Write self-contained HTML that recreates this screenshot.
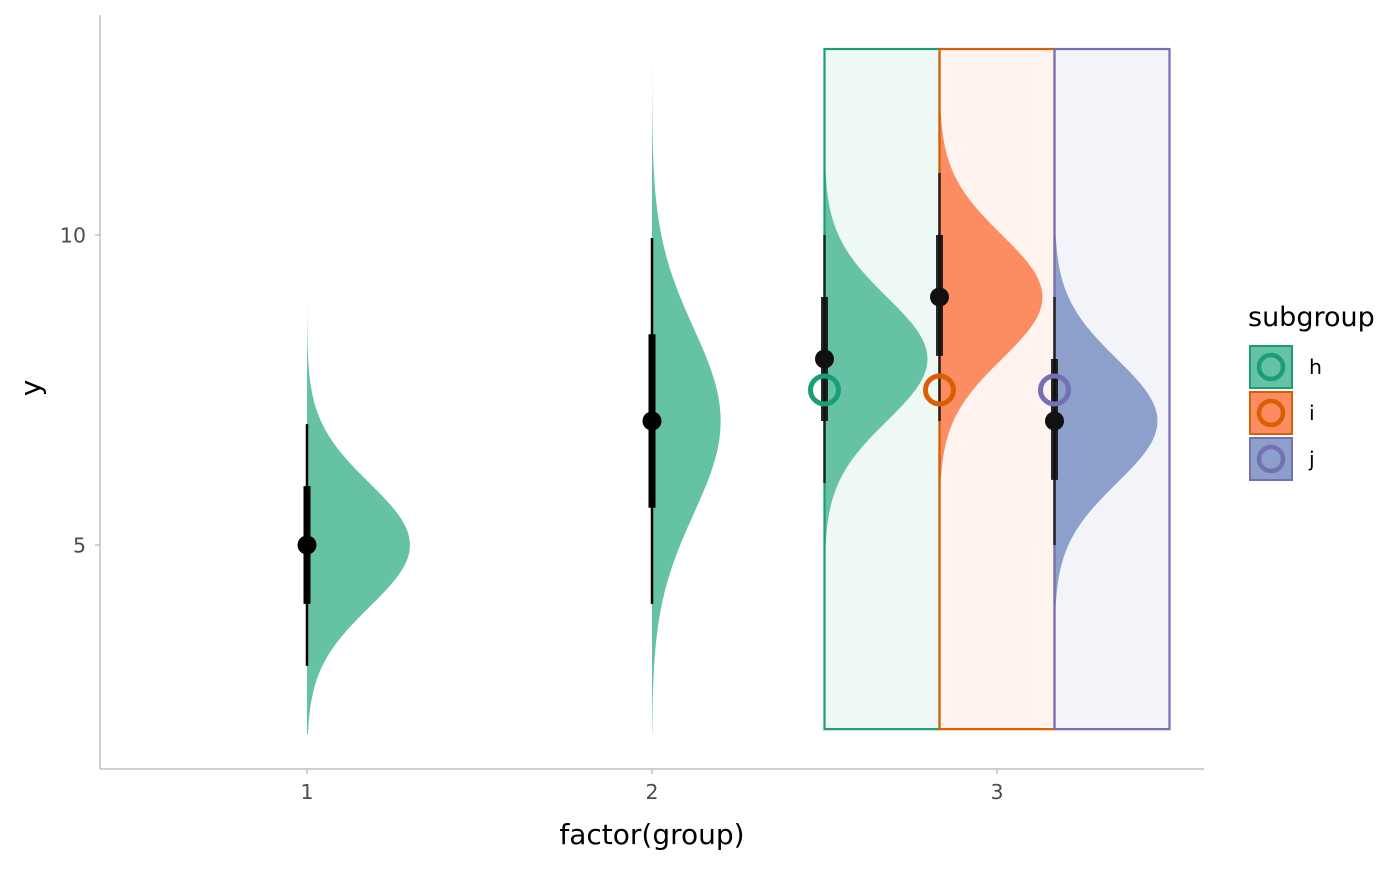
<!DOCTYPE html>
<html><head><meta charset="utf-8"><style>body{margin:0;background:#fff}svg text{font-family:"DejaVu Sans","Liberation Sans",sans-serif}</style></head>
<body>
<svg id="chart" width="1400" height="866" xmlns="http://www.w3.org/2000/svg"></svg>
<script>
// data
const groupLabels = ["1","2","3"];
const slabGroup = [1, 2, 3, 3, 3];
const slabSub = ["", "", "h", "i", "j"];
const slabMean = [5, 7, 8, 9, 7];
const slabSd = [1, 1.5, 1, 1, 1];
const slabMin = [1.95, 1.95, 4.95, 5.8, 4.0];
const slabMax = [9.0, 12.8, 11.1, 13.0, 10.0];
const pointVal = [5, 7, 8, 9, 7];
const thickLo = [4.05, 5.6, 7.0, 8.05, 6.05];
const thickHi = [5.95, 8.4, 9.0, 10.0, 8.0];
const thinLo = [3.05, 4.05, 6.0, 7.0, 5.0];
const thinHi = [6.95, 9.95, 10.0, 11.0, 9.0];
const subNames = ["h","i","j"];
const subHollowY = [7.5, 7.5, 7.5];
const rectLo = 2.03, rectHi = 13.0;
const yTicks = [5, 10];

const svg = document.getElementById('chart');
const NS = "http://www.w3.org/2000/svg";
const yS = v => 855 - 62 * v;
const xS = g => 307 + 345 * (g - 1);
const subOff = {"":0, h:-172.5, i:-57.5, j:57.5};
const fill = {"":"#66c2a5", h:"#66c2a5", i:"#fc8d62", j:"#8da0cb"};
const line = {h:"#1b9e77", i:"#d95f02", j:"#7570b3"};
const light = {h:"#eef8f4", i:"#fef3ef", j:"#f3f4f9"};
function mk(tag, attrs, parent){const e=document.createElementNS(NS,tag);for(const k in attrs)e.setAttribute(k,attrs[k]);(parent||svg).appendChild(e);return e;}

// axes
let a = mk('line',{x1:100,y1:15,x2:100,y2:769,stroke:'#b3b3b3','stroke-width':1.2});


a = mk('line',{x1:100,y1:769,x2:1204,y2:769,stroke:'#b3b3b3','stroke-width':1.2});


yTicks.forEach(t=>{
  const l=mk('line',{x1:95,x2:100,y1:yS(t),y2:yS(t),stroke:'#b3b3b3','stroke-width':1.2});
  
  
  const tx=mk('text',{x:86,y:yS(t)+7.5,'text-anchor':'end','font-size':20.5,fill:'#4d4d4d'});tx.textContent=t;
  
  
});
groupLabels.forEach((g,i)=>{
  const x=xS(i+1);
  const l=mk('line',{x1:x,x2:x,y1:769,y2:774,stroke:'#b3b3b3','stroke-width':1.2});
  
  
  const tx=mk('text',{x:x,y:799,'text-anchor':'middle','font-size':20.5,fill:'#4d4d4d'});tx.textContent=g;
  
  
});
let t=mk('text',{x:652,y:844,'text-anchor':'middle','font-size':28,fill:'#000'});t.textContent='factor(group)';


t=mk('text',{x:40,y:388,'text-anchor':'middle','font-size':28,fill:'#000',transform:'rotate(-90 40 388)'});t.textContent='y';



// background rects
subNames.forEach(s=>{
  const x0=xS(3)+subOff[s];
  const r=mk('rect',{x:x0,y:yS(rectHi),width:115,height:yS(rectLo)-yS(rectHi),fill:light[s]});
  
  
});
// slabs
slabMean.forEach((m,i)=>{
  const x0=xS(slabGroup[i])+subOff[slabSub[i]];
  const sd=slabSd[i];let d=`M${x0},${yS(slabMin[i])}`;
  for(let k=0;k<=200;k++){const v=slabMin[i]+(slabMax[i]-slabMin[i])*k/200;
    const p=Math.exp(-0.5*((v-m)/sd)**2)/(sd*Math.sqrt(2*Math.PI));
    d+=` L${(x0+p*258).toFixed(2)},${yS(v).toFixed(2)}`;}
  d+=` L${x0},${yS(slabMax[i])} Z`;
  const p=mk('path',{d:d,fill:fill[slabSub[i]]});
  
  
});
// rect outlines
subNames.forEach(s=>{
  const x0=xS(3)+subOff[s];
  const r=mk('rect',{x:x0,y:yS(rectHi),width:115,height:yS(rectLo)-yS(rectHi),fill:'none',stroke:line[s],'stroke-width':2.2});
  
  
});
// intervals
slabMean.forEach((m,i)=>{
  const x0=xS(slabGroup[i])+subOff[slabSub[i]];
  const col=slabSub[i]?'#111':'#000';
  let l=mk('line',{x1:x0,x2:x0,y1:yS(thinLo[i]),y2:yS(thinHi[i]),stroke:col,'stroke-width':2.5,'stroke-opacity':slabSub[i]?0.85:1});
  
  
  l=mk('line',{x1:x0,x2:x0,y1:yS(thickLo[i]),y2:yS(thickHi[i]),stroke:col,'stroke-width':7,'stroke-opacity':slabSub[i]?0.9:1});
  
  
  const c=mk('circle',{cx:x0,cy:yS(pointVal[i]),r:9.5,fill:col});
  
  
});
// hollow points
subNames.forEach((s,i)=>{
  const c=mk('circle',{cx:xS(3)+subOff[s],cy:yS(subHollowY[i]),r:14,fill:'none',stroke:line[s],'stroke-width':5});
  
  
});
// legend
t=mk('text',{x:1248,y:326,'font-size':27,fill:'#000'});t.textContent='subgroup';


subNames.forEach((s,i)=>{
  const y0=346+i*46;
  const g=mk('g',{});
  
  
  mk('rect',{x:1250,y:y0,width:42,height:42,fill:fill[s],stroke:line[s],'stroke-width':2},g);
  mk('circle',{cx:1271,cy:y0+21,r:12,fill:'none',stroke:line[s],'stroke-width':4.5},g);
  const tx=mk('text',{x:1309,y:y0+28,'font-size':20.5,fill:'#000'},g);tx.textContent=s;
});
</script>
</body></html>
